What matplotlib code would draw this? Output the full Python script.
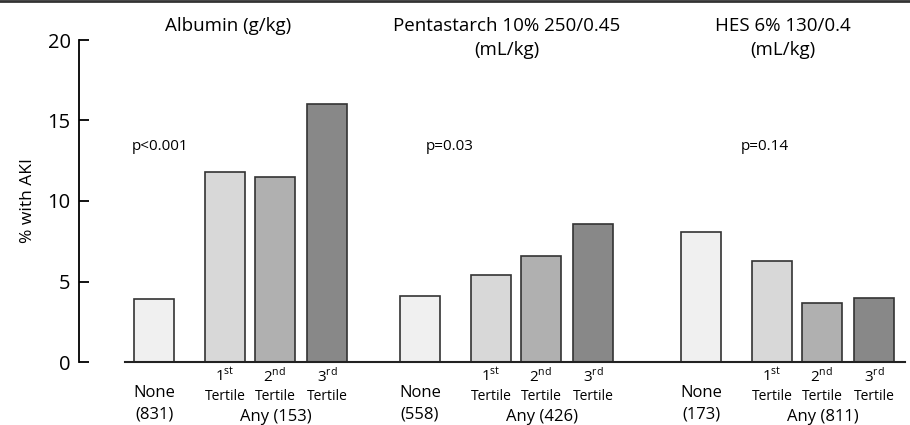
import matplotlib
matplotlib.use("Agg")
import matplotlib.pyplot as plt
from matplotlib.lines import Line2D

plt.rcParams['font.family'] = ['Open Sans', 'DejaVu Sans']

# ---- data ----
groups = ["Albumin (g/kg)", "Pentastarch 10% 250/0.45\n(mL/kg)", "HES 6% 130/0.4\n(mL/kg)"]
categories = ["None", "1st Tertile", "2nd Tertile", "3rd Tertile"]
albumin = [3.9, 11.8, 11.5, 16.0]
pentastarch = [4.1, 5.4, 6.6, 8.6]
hes = [8.1, 6.3, 3.65, 4.0]
none_n = [831, 558, 173]
any_n = [153, 426, 811]
p_values = ["p<0.001", "p=0.03", "p=0.14"]
y_ticks = [0, 5, 10, 15, 20]

series = [albumin, pentastarch, hes]
colors = ["#f0f0f0", "#d8d8d8", "#b0b0b0", "#888888"]

# ---- layout (pixel-like x units) ----
group_none_x = [154, 420, 701]
tertile_offsets = [71, 121, 173]
title_x = [228, 507, 783]
p_x = [160, 450, 765]
bar_w = 40

fig = plt.figure(figsize=(9.1, 4.25), dpi=100)
ax = fig.add_axes([79 / 910, (425 - 362) / 425, (910 - 79) / 910, 322 / 425])
ax.set_xlim(79, 910)
ax.set_ylim(0, 20)
trans = ax.get_xaxis_transform()
sups = ["st", "nd", "rd"]

for gi, vals in enumerate(series):
    xs = [group_none_x[gi]] + [group_none_x[gi] + o for o in tertile_offsets]
    ax.bar(xs, vals, width=bar_w, color=colors, edgecolor="#333333", linewidth=1.2, zorder=2)
    # group title
    ax.text(title_x[gi], 21.45, groups[gi], ha="center", va="top", fontsize=13.5,
            clip_on=False, linespacing=1.45)
    # p-value
    ax.text(p_x[gi], 13.4, p_values[gi], ha="center", va="center", fontsize=11)
    # x labels
    ax.text(group_none_x[gi], -0.097, "None", transform=trans, ha="center", va="center",
            fontsize=12, clip_on=False)
    ax.text(group_none_x[gi], -0.162, "(%d)" % none_n[gi], transform=trans, ha="center",
            va="center", fontsize=12, clip_on=False)
    for k, o in enumerate(tertile_offsets):
        ax.text(group_none_x[gi] + o, -0.045, "%d$^{\\mathregular{%s}}$" % (k + 1, sups[k]),
                transform=trans, ha="center", va="center", fontsize=11, clip_on=False)
        ax.text(group_none_x[gi] + o, -0.107, "Tertile", transform=trans, ha="center",
                va="center", fontsize=10, clip_on=False)
    ax.text(group_none_x[gi] + (tertile_offsets[0] + tertile_offsets[-1]) / 2, -0.172,
            "Any (%d)" % any_n[gi], transform=trans, ha="center", va="center",
            fontsize=12, clip_on=False)

# baseline
ax.plot([125, 905], [0, 0], color="#222222", lw=1.5, clip_on=False, zorder=3)

for s in ["top", "right", "bottom"]:
    ax.spines[s].set_visible(False)
ax.spines["left"].set_linewidth(1.3)
ax.set_xticks([])
ax.set_yticks(y_ticks)
ax.tick_params(axis="y", direction="in", length=7, width=1.3, labelsize=14.5, pad=6)
ax.set_ylabel("% with AKI", fontsize=12.5, labelpad=8)

# top border line
fig.add_artist(Line2D([0, 1], [1 - 1 / 425, 1 - 1 / 425], color="#333333", lw=2,
                      transform=fig.transFigure))

fig.savefig("out.png", dpi=100)
